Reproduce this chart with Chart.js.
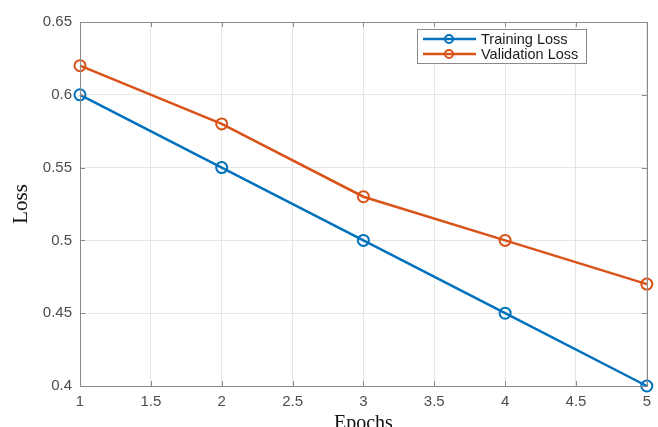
<!DOCTYPE html>
<html>
<head>
<meta charset="utf-8">
<script src="https://cdn.jsdelivr.net/npm/chart.js@4.4.1/dist/chart.umd.min.js"></script>
<style>
  html, body { margin: 0; padding: 0; background: #fff; }
  #wrap { width: 658px; height: 427px; }
</style>
</head>
<body>
<div id="wrap"><canvas id="grafico"></canvas></div>
<script>
// Datos de pérdida por época
var epocas = [1, 2, 3, 4, 5];
var perdidaEntrenamiento = [0.60, 0.55, 0.50, 0.45, 0.40];
var perdidaValidacion = [0.62, 0.58, 0.53, 0.50, 0.47];
var nombresSeries = ['Training Loss', 'Validation Loss'];
var coloresSeries = ['#0072BD', '#D95319'];

const fuenteEjes = { family: 'Liberation Sans, Arial, sans-serif', size: 15 };
const fuenteTitulos = { family: 'Liberation Serif, Times New Roman, serif', size: 20 };

// Marco del área, marcas internas y leyenda con recuadro
const marcoYLeyenda = {
  id: 'marcoYLeyenda',
  afterDraw(chart) {
    const ctx = chart.ctx;
    const a = chart.chartArea;
    const sx = chart.scales.x, sy = chart.scales.y;
    ctx.save();
    ctx.strokeStyle = '#8a8a8a';
    ctx.lineWidth = 1;
    ctx.beginPath();
    sx.ticks.forEach(t => {
      const px = Math.round(sx.getPixelForValue(t.value)) + 0.5;
      ctx.moveTo(px, a.bottom); ctx.lineTo(px, a.bottom - 5);
      ctx.moveTo(px, a.top); ctx.lineTo(px, a.top + 5);
    });
    sy.ticks.forEach(t => {
      const py = Math.round(sy.getPixelForValue(t.value)) + 0.5;
      ctx.moveTo(a.left, py); ctx.lineTo(a.left + 5, py);
      ctx.moveTo(a.right, py); ctx.lineTo(a.right - 5, py);
    });
    ctx.stroke();
    ctx.strokeRect(Math.round(a.left) + 0.5, Math.round(a.top) + 0.5,
      Math.round(a.right - a.left), Math.round(a.bottom - a.top));

    // leyenda
    const lx = 417, ly = 29, lw = 169, lh = 34;
    ctx.fillStyle = '#fff';
    ctx.fillRect(lx, ly, lw, lh);
    ctx.strokeStyle = '#8a8a8a';
    ctx.strokeRect(lx + 0.5, ly + 0.5, lw, lh);
    ctx.font = '14.5px Liberation Sans, Arial, sans-serif';
    ctx.textBaseline = 'middle';
    chart.data.datasets.forEach((ds, i) => {
      const y = ly + 10 + i * 15;
      ctx.strokeStyle = ds.borderColor;
      ctx.lineWidth = 2.5;
      ctx.beginPath();
      ctx.moveTo(lx + 6, y); ctx.lineTo(lx + 59, y);
      ctx.stroke();
      ctx.lineWidth = 2;
      ctx.beginPath();
      ctx.arc(lx + 32, y, 4, 0, Math.PI * 2);
      ctx.stroke();
      ctx.fillStyle = '#1a1a1a';
      ctx.fillText(ds.label, lx + 64, y + 1);
    });
    ctx.restore();
  }
};

new Chart(document.getElementById('grafico'), {
  type: 'line',
  data: {
    datasets: [
      {
        label: nombresSeries[0],
        data: epocas.map((e, i) => ({ x: e, y: perdidaEntrenamiento[i] })),
        borderColor: coloresSeries[0],
        pointBorderColor: coloresSeries[0],
        pointBackgroundColor: 'transparent',
        borderWidth: 2.5,
        pointRadius: 5.5,
        pointBorderWidth: 2,
        clip: false
      },
      {
        label: nombresSeries[1],
        data: epocas.map((e, i) => ({ x: e, y: perdidaValidacion[i] })),
        borderColor: coloresSeries[1],
        pointBorderColor: coloresSeries[1],
        pointBackgroundColor: 'transparent',
        borderWidth: 2.5,
        pointRadius: 5.5,
        pointBorderWidth: 2,
        clip: false
      }
    ]
  },
  options: {
    responsive: true,
    maintainAspectRatio: false,
    animation: false,
    layout: { padding: { top: 22, right: 11, left: 0, bottom: 0 } },
    plugins: {
      legend: { display: false },
      tooltip: { enabled: false },
      title: { display: false }
    },
    scales: {
      x: {
        type: 'linear',
        min: 1, max: 5,
        ticks: {
          stepSize: 0.5,
          color: '#4d4d4d',
          font: fuenteEjes,
          padding: 7,
          callback: v => String(Math.round(v * 10) / 10)
        },
        grid: { color: '#e6e6e6', drawTicks: false },
        border: { display: false },
        title: {
          display: true,
          text: 'Epochs',
          color: '#111',
          font: fuenteTitulos,
          padding: { top: 0, bottom: -9 }
        },
        afterFit(scale) { scale.height = 41; }
      },
      y: {
        min: 0.4, max: 0.65,
        ticks: {
          stepSize: 0.05,
          color: '#4d4d4d',
          font: fuenteEjes,
          padding: 8,
          callback: v => String(Math.round(v * 100) / 100)
        },
        grid: { color: '#e6e6e6', drawTicks: false },
        border: { display: false },
        title: {
          display: true,
          text: 'Loss',
          color: '#111',
          font: { family: fuenteTitulos.family, size: 21 },
          padding: { top: 9, bottom: 0 }
        },
        afterFit(scale) { scale.width = 80; }
      }
    }
  },
  plugins: [marcoYLeyenda]
});
</script>
</body>
</html>
